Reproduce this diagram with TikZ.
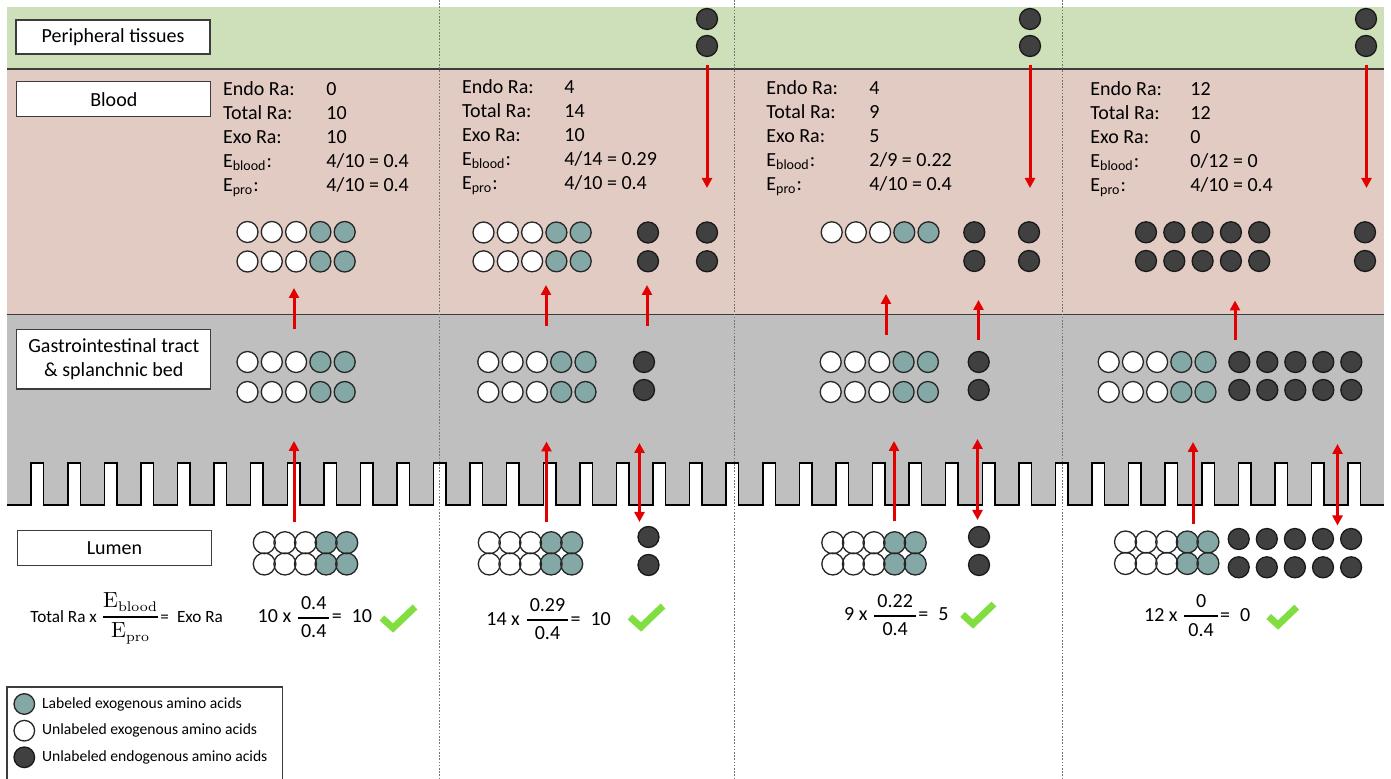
\documentclass[tikz,border=0pt]{standalone}
\usepackage{amsmath}
\usepackage[no-math]{fontspec}
\setmainfont{Carlito}
\usetikzlibrary{arrows.meta}
\definecolor{aagreen}{RGB}{205,224,186}
\definecolor{aapink}{RGB}{226,203,195}
\definecolor{aagrey}{RGB}{191,191,191}
\definecolor{aateal}{RGB}{132,168,165}
\definecolor{aadark}{RGB}{64,64,64}
\definecolor{aared}{RGB}{226,0,0}
\definecolor{aacheck}{RGB}{128,222,64}
\definecolor{aaline}{RGB}{60,60,60}

\newcommand\aaWT[4]{%
  \foreach \k/\s in {0/wc,1/wc,2/wc,3/tc,4/tc}{\draw[\s] ({#1+#3*\k},#2) circle[radius=#4];}}
\newcommand\aaD[4]{%
  \foreach \k in {0,...,4}{\draw[dc] ({#1+#3*\k},#2) circle[radius=#4];}}
\newcommand\aaLum[3]{%
  \foreach \yy in {#2,#3}{\foreach \k in {3,4}{\fill[aateal] ({#1+20.6*\k},\yy) circle[radius=11];}}
  \foreach \yy in {#2,#3}{\foreach \k in {0,...,4}{\draw[cl] ({#1+20.6*\k},\yy) circle[radius=11];}}}
\newcommand\aaTxt[9]{%
  \node[dat] (#1a) at (#2,#4) {Endo Ra:};
  \node[dat] (#1b) at (#2,{#4+24}) {Total Ra:};
  \node[dat] (#1c) at (#2,{#4+48}) {Exo Ra:};
  \node[dat] (#1d) at (#2,{#4+72}) {E\textsubscript{blood}:};
  \node[dat] (#1e) at (#2,{#4+96}) {E\textsubscript{pro}:};
  \node[dat] (#1f) at (#3,#4) {#5};
  \node[dat] (#1g) at (#3,{#4+24}) {#6};
  \node[dat] (#1h) at (#3,{#4+48}) {#7};
  \node[dat] (#1i) at (#3,{#4+72}) {#8};
  \node[dat] (#1j) at (#3,{#4+96}) {#9};}
\newcommand\aaArr[5]{%
  \coordinate (#1s) at (#3,#4); \coordinate (#1e) at (#3,#5);
  \draw[#2] (#1s) -- (#1e);}
\newcommand\aaCheck[3]{%
  \draw[chk] ({#1-11*#3},{#2-10*#3}) -- (#1,#2) -- ({#1+22*#3},{#2-21*#3});}
\newcommand\aafrac[2]{\genfrac{}{}{1pt}{0}{\mbox{\hspace{1.5pt}#1\hspace{1.5pt}}}{\mbox{\hspace{1.5pt}#2\hspace{1.5pt}}}}

\begin{document}
\begin{tikzpicture}[x=0.5pt,y=-0.5pt,
  wc/.style={draw=black!85,line width=0.65pt,fill=white},
  tc/.style={draw=black!85,line width=0.65pt,fill=aateal},
  dc/.style={draw=black!90,line width=0.65pt,fill=aadark},
  cl/.style={draw=black!85,line width=0.65pt},
  ra/.style={draw=aared,line width=1.5pt,-{Triangle[width=5pt,length=5pt]}},
  rd/.style={draw=aared,line width=1.5pt,{Triangle[width=5pt,length=5pt]}-{Triangle[width=5pt,length=5pt]}},
  dat/.style={anchor=base west,inner sep=0pt,font=\fontsize{10}{12}\selectfont},
  lab/.style={draw=aaline,line width=0.6pt,fill=white,inner sep=0pt,minimum width=97pt,align=center,font=\fontsize{10}{12}\selectfont},
  leg/.style={anchor=west,inner sep=0pt,font=\fontsize{7.8}{9}\selectfont},
  chk/.style={draw=aacheck,line width=3.4pt,line join=miter,line cap=butt},
  aadots/.style={draw=black!55,line width=0.4pt,dash pattern=on 0.8pt off 0.8pt},
  bandline/.style={draw=aaline,line width=0.8pt}]
\useasboundingbox (0,0) rectangle (1391,779);
\clip (0,0) rectangle (1391,779);
\fill[white] (0,0) rectangle (1391,779);
% bands
\fill[aagreen] (7,7) rectangle (1384,69);
\fill[aapink] (7,69) rectangle (1384,314.5);
\fill[aagrey] (7,314.5) rectangle (1384,505);
\foreach \k in {0,...,36}{\fill[white] ({31.2+36.58*\k},463) rectangle ({43.7+36.58*\k},506);}
\draw[line width=0.75pt] (7,505) \foreach \k in {0,...,36}{ -- ({31.2+36.58*\k},505) -- ({31.2+36.58*\k},463) -- ({43.7+36.58*\k},463) -- ({43.7+36.58*\k},505)} -- (1384,505);
\draw[bandline] (7,69) -- (1384,69);
\draw[bandline] (7,314.5) -- (1384,314.5);
\foreach \xx in {439.5,734,1062}{\draw[aadots] (\xx,0) -- (\xx,779);}
% label boxes
\node[lab,minimum height=17pt] (pt) at (113,37) {Peripheral tissues};
\node[lab,minimum height=17.5pt] (bl) at (113.8,99.2) {Blood};
\node[lab,minimum height=29.8pt] (gi) at (113.8,359.2) {Gastrointestinal tract\\\& splanchnic bed};
\node[lab,minimum height=17.3pt] (lu) at (114.5,548) {Lumen};
% blood texts
\aaTxt{ta}{222.7}{326}{96}{0}{10}{10}{4/10 = 0.4}{4/10 = 0.4}
\aaTxt{tb}{461.7}{564}{93.5}{4}{14}{10}{4/14 = 0.29}{4/10 = 0.4}
\aaTxt{tc}{766}{869}{95}{4}{9}{5}{2/9 = 0.22}{4/10 = 0.4}
\aaTxt{td}{1090}{1190}{96}{12}{12}{0}{0/12 = 0}{4/10 = 0.4}
% peripheral circles
\foreach \xx in {707,1030,1366}{\draw[dc] (\xx,19) circle[radius=10.5]; \draw[dc] (\xx,46) circle[radius=10.5];}
% blood circles
\aaWT{247.5}{232}{24.3}{10.5}
\aaWT{247.5}{261.5}{24.3}{10.5}
\aaWT{483.5}{232.5}{24.3}{10.5}
\aaWT{483.5}{261.3}{24.3}{10.5}
\foreach \xx in {648,707}{\draw[dc] (\xx,232.5) circle[radius=10.5]; \draw[dc] (\xx,261.3) circle[radius=10.5];}
\aaWT{831.7}{232.3}{24.2}{10.5}
\foreach \xx in {974.3,1029}{\draw[dc] (\xx,232.3) circle[radius=10.5]; \draw[dc] (\xx,261) circle[radius=10.5];}
\aaD{1146}{232.3}{28.3}{10.5}
\aaD{1146}{261}{28.3}{10.5}
\draw[dc] (1365,232.3) circle[radius=10.5];
\draw[dc] (1365,261) circle[radius=10.5];
% GI circles
\aaWT{247.5}{362}{24.3}{10.5}
\aaWT{247.5}{392}{24.3}{10.5}
\aaWT{488.3}{362}{24.3}{10.5}
\aaWT{488.3}{392}{24.3}{10.5}
\draw[dc] (644,362) circle[radius=10.5];
\draw[dc] (644,390) circle[radius=10.5];
\aaWT{830.7}{362}{24.3}{10.5}
\aaWT{830.7}{392}{24.3}{10.5}
\draw[dc] (978.7,362) circle[radius=10.5];
\draw[dc] (978.7,390) circle[radius=10.5];
\aaWT{1108.7}{362}{24.2}{10.5}
\aaWT{1108.7}{392}{24.2}{10.5}
\aaD{1239.3}{362}{28}{10.5}
\aaD{1239.3}{390}{28}{10.5}
% lumen circles
\aaLum{264.3}{542.7}{564}
\aaLum{489.3}{542.7}{564}
\draw[dc] (648.5,537) circle[radius=10.5];
\draw[dc] (648.5,565) circle[radius=10.5];
\aaLum{832.8}{542.7}{564}
\draw[dc] (979,537) circle[radius=10.5];
\draw[dc] (979,565) circle[radius=10.5];
\aaLum{1125.5}{542}{563.5}
\aaD{1238.7}{539}{28.1}{10.5}
\aaD{1238.7}{567.3}{28.1}{10.5}
% arrows
\aaArr{a1}{ra}{294}{329}{288}
\aaArr{a2}{ra}{294}{522.5}{441}
\aaArr{b1}{ra}{546}{326}{285}
\aaArr{b2}{ra}{647}{326}{285}
\aaArr{b3}{ra}{546.5}{522.5}{441.5}
\aaArr{b4}{rd}{639.5}{443}{522}
\aaArr{b5}{ra}{707}{65}{188}
\aaArr{c1}{ra}{886}{335}{294}
\aaArr{c2}{ra}{978.5}{340.5}{300}
\aaArr{c3}{ra}{894}{521.5}{441}
\aaArr{c4}{rd}{977.5}{439}{520}
\aaArr{c5}{ra}{1030}{65}{188}
\aaArr{d1}{ra}{1235}{340.5}{300.5}
\aaArr{d2}{ra}{1193}{524}{442}
\aaArr{d3}{rd}{1337.5}{444}{525.5}
\aaArr{d4}{ra}{1366.5}{65}{188}
% formulas
\node[dat] (f0) at (30,622.7) {\fontsize{8.6}{10}\selectfont Total Ra x {\fontsize{10.5}{12}\selectfont$\genfrac{}{}{0.8pt}{0}{\mathrm{E}_{\mathrm{blood}}}{\mathrm{E}_{\mathrm{pro}}}$}=\hspace{4pt}Exo Ra};
\node[dat] (f1) at (257.3,623) {10 x $\aafrac{0.4}{0.4}$=\hspace{5pt}10};
\node[dat] (f2) at (486,625) {14 x $\aafrac{0.29}{0.4}$=\hspace{5pt}10};
\node[dat] (f3) at (843.8,621) {9 x $\aafrac{0.22}{0.4}$=\hspace{5pt}5};
\node[dat] (f4) at (1143.7,621.5) {12 x $\genfrac{}{}{1pt}{0}{\mbox{\hspace{5pt}0\hspace{5pt}}}{\mbox{\hspace{2pt}0.4\hspace{2pt}}}$=\hspace{5pt}0};
% checks
\aaCheck{393}{628}{1}
\aaCheck{641}{627}{1}
\aaCheck{973}{624}{0.95}
\aaCheck{1278}{625}{0.85}
% legend
\draw[draw=aaline,line width=0.8pt] (7,686.7) rectangle (282.3,800);
\draw[tc] (24.3,704) circle[radius=10.3];
\draw[wc] (24.3,730.7) circle[radius=10.3];
\draw[dc] (24.3,757.3) circle[radius=10.3];
\node[leg] (lg1) at (41.7,704) {Labeled exogenous amino acids};
\node[leg] (lg2) at (41.7,730.7) {Unlabeled exogenous amino acids};
\node[leg] (lg3) at (41.7,757.3) {Unlabeled endogenous amino acids};
\end{tikzpicture}
\end{document}
